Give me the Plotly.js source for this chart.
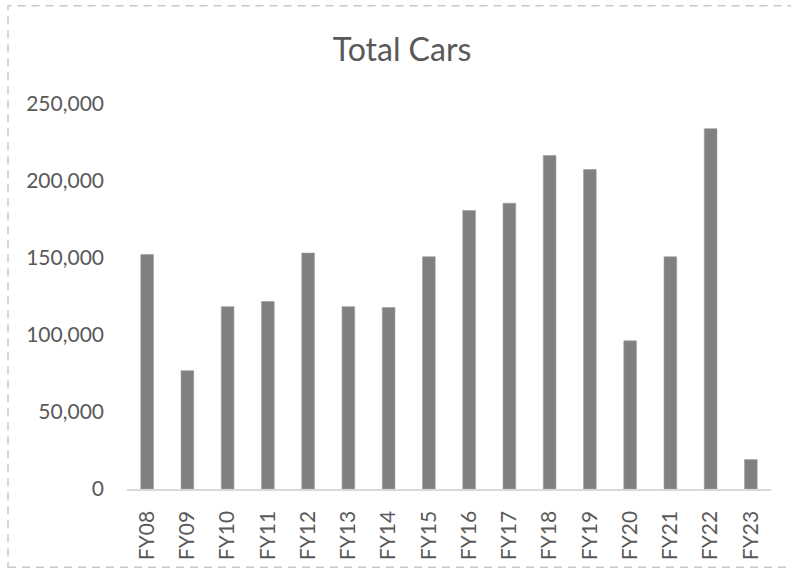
<!DOCTYPE html>
<html>
<head>
<meta charset="utf-8">
<script src="https://cdn.plot.ly/plotly-3.0.1.min.js"></script>
<style>
html,body{margin:0;padding:0;background:#fff;}
#chart{width:791px;height:570px;}
</style>
</head>
<body>
<div id="chart"></div>
<script>
const categories = ["FY08","FY09","FY10","FY11","FY12","FY13","FY14","FY15","FY16","FY17","FY18","FY19","FY20","FY21","FY22","FY23"];
const totalCars = [152300, 76800, 118400, 121700, 153200, 118400, 117800, 150800, 180800, 185600, 216500, 207400, 96200, 150800, 234000, 19100];
const yTickVals = [0, 50000, 100000, 150000, 200000, 250000];
const yTickText = ["0", "50,000", "100,000", "150,000", "200,000", "250,000"];

const W = 791, H = 570;
const L = 127, R = 20, T = 103.5, B = 80.5;
const pw = W - L - R, ph = H - T - B;
function px(x){ return (x - L) / pw; }
function py(y){ return (H - B - y) / ph; }

const trace = {
  type: "bar",
  x: categories,
  y: totalCars,
  marker: {color: "#808080", line: {color: "#9a9a9a", width: 0.6}},
  hoverinfo: "x+y"
};

const fontFam = "Lato, 'Open Sans', sans-serif";
const layout = {
  width: W, height: H,
  margin: {l: L, r: R, t: T, b: B, pad: 0},
  paper_bgcolor: "#ffffff",
  plot_bgcolor: "#ffffff",
  showlegend: false,
  bargap: 0.685,
  title: {
    text: "Total Cars",
    font: {family: fontFam, size: 32, color: "#595959"},
    x: 402 / W, xref: "container", xanchor: "center",
    y: 1 - 50 / H, yref: "container", yanchor: "middle"
  },
  xaxis: {
    type: "category",
    tickangle: -90,
    tickfont: {family: fontFam, size: 21, color: "#595959"},
    showline: true, linecolor: "#d9d9d9", linewidth: 1.5,
    showgrid: false, zeroline: false, ticks: "",
    ticklabelstandoff: 12,
    fixedrange: true
  },
  yaxis: {
    range: [0, 250000],
    tickvals: yTickVals,
    ticktext: yTickText,
    tickfont: {family: fontFam, size: 21, color: "#595959"},
    showline: false, showgrid: false, zeroline: false, ticks: "",
    ticklabelstandoff: 22,
    fixedrange: true
  },
  shapes: [{
    type: "rect", xref: "paper", yref: "paper",
    x0: px(8), x1: px(793), y0: py(568), y1: py(5),
    line: {color: "#c8c8c8", width: 1.5, dash: "8px,6px"},
    fillcolor: "rgba(0,0,0,0)"
  }]
};

Plotly.newPlot("chart", [trace], layout, {displayModeBar: false, staticPlot: true});
</script>
</body>
</html>
